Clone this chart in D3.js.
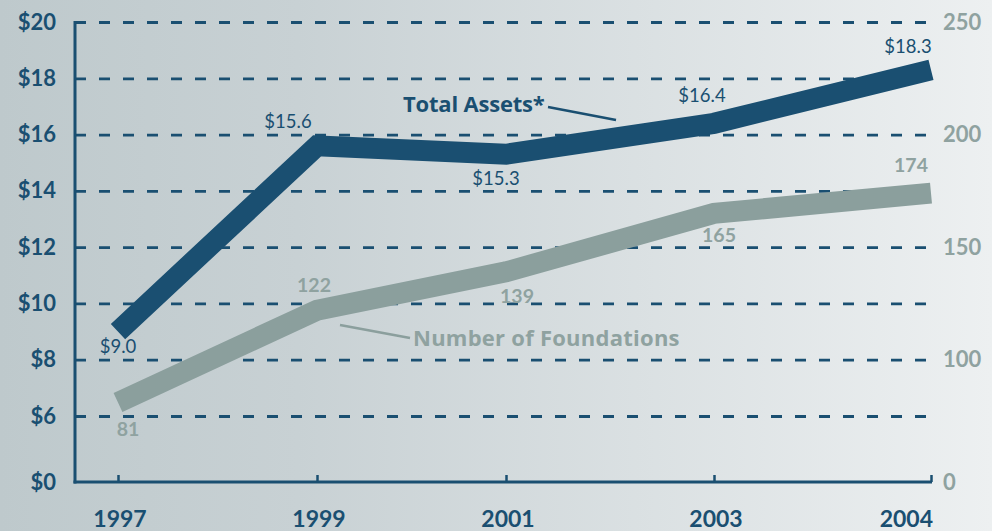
<!DOCTYPE html>
<html><head><meta charset="utf-8">
<script src="https://cdn.jsdelivr.net/npm/d3@7"></script>
<style>
html,body{margin:0;padding:0;background:#c9d2d5;}
svg{display:block;font-family:Lato,"Open Sans",sans-serif;}
</style></head>
<body><svg id="c" width="992" height="531"></svg>
<script>
// ---- data ----
const years = ["1997","1999","2001","2003","2004"];
const totalAssets = [9.0, 15.6, 15.3, 16.4, 18.3];           // $ billions (left axis)
const foundations = [81, 122, 139, 165, 174];                // count (right axis)
const assetLabels = ["$9.0","$15.6","$15.3","$16.4","$18.3"];
const foundationLabels = ["81","122","139","165","174"];
const leftTicks = [0,6,8,10,12,14,16,18,20];
const gridTicks = [6,8,10,12,14,16,18,20];
const rightTicks = [0,100,150,200,250];

// ---- layout ----
const W = 992, H = 531;
const x0 = 75, x1 = 931, yTop = 22, yBase = 482;
const DARK = "#1a4f71", GRAY = "#8b9f9d", GRAYTXT = "#8fa2a0";

const svg = d3.select("#c");
const defs = svg.append("defs");
const g = defs.append("linearGradient").attr("id","bg").attr("x1","0").attr("x2","1").attr("y1","0").attr("y2","0");
g.append("stop").attr("offset","0").attr("stop-color","#bec9cc");
g.append("stop").attr("offset","0.3").attr("stop-color","#c8d1d4");
g.append("stop").attr("offset","1").attr("stop-color","#edf0f1");
svg.append("rect").attr("width",W).attr("height",H).attr("fill","url(#bg)");

// scales (broken axes: $0 -> $6 and 0 -> 75 compressed)
const x = d3.scaleLinear().domain([0,1,2,3,4]).range([118,317,506,714,931]);
const xi = d => x(years.indexOf(d));
const yL = d3.scaleLinear().domain([0,6,20]).range([yBase,416,yTop]);
const yR = d3.scaleLinear().domain([0,75,250]).range([yBase,416,yTop]);

// gridlines
const grid = svg.append("g").attr("transform",`translate(${x0},0)`)
  .call(d3.axisRight(yL).tickValues(gridTicks).tickSize(852).tickFormat(""));
grid.select(".domain").remove();
grid.selectAll("line").attr("stroke",DARK).attr("stroke-width",2.8).attr("stroke-dasharray","11,13");

// left axis labels
const la = svg.append("g").attr("transform",`translate(${x0},0)`)
  .call(d3.axisLeft(yL).tickValues(leftTicks).tickSize(0).tickPadding(19).tickFormat(d=>"$"+d));
la.select(".domain").remove();
la.selectAll("text").attr("fill",DARK).attr("font-size",22).attr("font-weight",700).attr("font-family","Lato");

// right axis labels
const ra = svg.append("g").attr("transform",`translate(${x1},0)`)
  .call(d3.axisRight(yR).tickValues(rightTicks).tickSize(0).tickPadding(12));
ra.select(".domain").remove();
ra.selectAll("text").attr("fill",GRAYTXT).attr("font-size",22).attr("font-weight",700).attr("font-family","Lato");

// left axis line
svg.append("line").attr("x1",x0).attr("x2",x0).attr("y1",yTop-1).attr("y2",yBase+1.5)
  .attr("stroke",DARK).attr("stroke-width",3);
// bottom axis
const xa = svg.append("g").attr("transform",`translate(0,${yBase})`)
  .call(d3.axisTop(x).tickValues([0,1,2,3,4]).tickSize(7).tickFormat(""));
xa.select(".domain").remove();
xa.selectAll("line").attr("stroke",DARK).attr("stroke-width",2.5);
svg.append("line").attr("x1",x0-1.5).attr("x2",x1+1).attr("y1",yBase).attr("y2",yBase)
  .attr("stroke",DARK).attr("stroke-width",3);

// year labels
svg.append("g").selectAll("text").data(years).join("text")
  .attr("x",(d,i)=> xi(d)+2)
  .attr("y",527)
  .attr("text-anchor",(d,i)=> i===years.length-1 ? "end" : "middle")
  .attr("fill",DARK).attr("font-size",23).attr("font-weight",700).text(d=>d);

// lines
const lineL = d3.line().x((d,i)=>x(i)).y(d=>yL(d));
const lineR = d3.line().x((d,i)=>x(i)).y(d=>yR(d));
svg.append("path").attr("d",lineR(foundations)).attr("fill","none").attr("stroke",GRAY)
  .attr("stroke-width",21).attr("stroke-linejoin","miter").attr("stroke-linecap","butt");
svg.append("path").attr("d",lineL(totalAssets)).attr("fill","none").attr("stroke",DARK)
  .attr("stroke-width",21).attr("stroke-linejoin","miter").attr("stroke-linecap","butt");

// value labels
const aOff = [[0,21],[-29,-18],[-10,31],[-12,-21],[-23,-17]];
const fOff = [[10,34],[-3,-18],[11,31],[5,29],[-20,-21]];
svg.append("g").selectAll("text").data(totalAssets).join("text")
  .attr("x",(d,i)=>x(i)+aOff[i][0]).attr("y",(d,i)=>yL(d)+aOff[i][1])
  .attr("text-anchor","middle").attr("fill",DARK).attr("font-size",18.5)
  .text((d,i)=>assetLabels[i]);
svg.append("g").selectAll("text").data(foundations).join("text")
  .attr("x",(d,i)=>x(i)+fOff[i][0]).attr("y",(d,i)=>yR(d)+fOff[i][1])
  .attr("text-anchor","middle").attr("fill",GRAYTXT).attr("font-size",19.5).attr("font-weight",700)
  .text((d,i)=>foundationLabels[i]);

// series annotations
svg.append("line").attr("x1",548).attr("y1",107).attr("x2",616).attr("y2",120)
  .attr("stroke",DARK).attr("stroke-width",2.5);
svg.append("text").attr("x",403).attr("y",112).attr("fill",DARK).attr("font-size",22)
  .attr("font-family","'Open Sans'").attr("font-weight",700).attr("letter-spacing",-0.2).text("Total Assets*");
svg.append("line").attr("x1",340).attr("y1",325).attr("x2",410).attr("y2",338)
  .attr("stroke",GRAY).attr("stroke-width",2.5);
svg.append("text").attr("x",413).attr("y",346).attr("fill",GRAYTXT).attr("font-size",22)
  .attr("font-family","'Open Sans'").attr("font-weight",700).attr("letter-spacing",0.25).text("Number of Foundations");
</script></body></html>
